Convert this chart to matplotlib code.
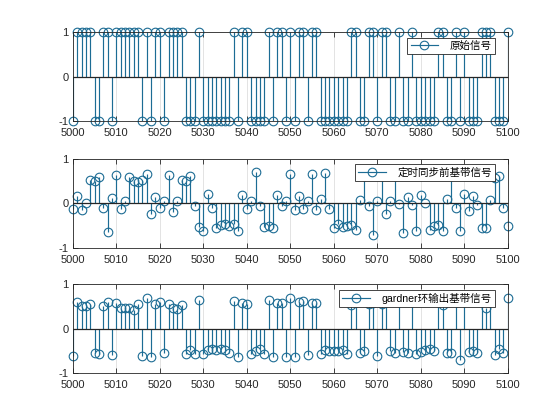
import numpy as np
import matplotlib
matplotlib.use('Agg')
import matplotlib.pyplot as plt
from matplotlib.lines import Line2D
from matplotlib.legend_handler import HandlerLine2D

# ---------------- data ----------------
n = np.arange(5000, 5101)

original = [-1, 1, 1, 1, 1, -1, -1, 1, 1, -1,
            1, 1, 1, 1, 1, 1, -1, 1, -1, 1,
            1, -1, 1, 1, 1, 1, -1, -1, -1, 1,
            -1, -1, -1, -1, -1, -1, -1, 1, -1, 1,
            1, -1, -1, -1, -1, 1, -1, 1, 1, -1,
            1, -1, 1, 1, -1, 1, 1, -1, -1, -1,
            -1, -1, -1, -1, 1, 1, -1, -1, 1, 1,
            -1, 1, 1, -1, -1, 1, -1, -1, 1, -1,
            -1, -1, -1, -1, 1, 1, -1, -1, 1, -1,
            1, -1, -1, -1, 1, 1, 1, -1, -1, -1,
            1]

pre_sync = [-0.12, 0.16, -0.15, 0.01, 0.51, 0.49, 0.58, -0.11, -0.65, 0.11,
            0.64, -0.13, 0.04, 0.59, 0.49, 0.47, 0.53, 0.65, -0.24, 0.15,
            -0.11, 0.04, 0.64, -0.19, 0.05, 0.53, 0.49, 0.62, -0.06, -0.54,
            -0.61, 0.20, -0.10, -0.55, -0.48, -0.46, -0.50, -0.46, -0.61, 0.18,
            -0.13, 0.05, 0.69, -0.07, -0.54, -0.50, -0.55, 0.18, -0.06, 0.05,
            0.65, -0.15, 0.16, -0.13, 0.04, 0.65, -0.15, 0.09, 0.68, -0.12,
            -0.55, -0.46, -0.54, -0.50, -0.48, -0.59, 0.07, 0.60, -0.07, -0.71,
            0.05, 0.60, -0.24, 0.05, 0.60, -0.02, -0.66, 0.14, -0.04, -0.63,
            0.18, 0.00, -0.60, -0.50, -0.48, -0.63, 0.09, 0.60, -0.11, -0.63,
            0.20, -0.18, 0.16, -0.04, -0.55, -0.56, 0.07, 0.57, 0.62, -0.10,
            -0.51]

gardner = [-0.62, 0.60, 0.50, 0.50, 0.55, -0.55, -0.57, 0.50, 0.60, -0.60,
           0.57, 0.45, 0.47, 0.47, 0.42, 0.55, -0.62, 0.68, -0.63, 0.56,
           0.60, -0.55, 0.55, 0.47, 0.43, 0.53, -0.57, -0.48, -0.57, 0.63,
           -0.57, -0.48, -0.47, -0.49, -0.47, -0.48, -0.55, 0.62, -0.65, 0.57,
           0.54, -0.58, -0.50, -0.45, -0.57, 0.65, -0.63, 0.57, 0.58, -0.64,
           0.68, -0.65, 0.60, 0.62, -0.60, 0.58, 0.58, -0.58, -0.49, -0.50,
           -0.50, -0.50, -0.49, -0.58, 0.53, 0.60, -0.55, -0.51, 0.55, 0.58,
           -0.61, 0.55, 0.60, -0.50, -0.55, 0.60, -0.53, -0.56, 0.60, -0.58,
           -0.53, -0.49, -0.47, -0.51, 0.60, 0.53, -0.55, -0.55, 0.60, -0.71,
           0.60, -0.53, -0.51, -0.54, 0.60, 0.45, 0.60, -0.60, -0.47, -0.56,
           0.68]

xticks = list(range(5000, 5101, 10))
yticks = [-1, 0, 1]
labels = ['原始信号', '定时同步前基带信号', 'gardner环输出基带信号']

# ---------------- style ----------------
plt.rcParams['axes.unicode_minus'] = False
plt.rcParams['font.family'] = ['Liberation Sans', 'Noto Sans CJK SC', 'DejaVu Sans']

stem_color = '#1c6c94'
axis_color = '#262626'


class EndMarkerHandler(HandlerLine2D):
    def get_xdata(self, legend, xdescent, ydescent, width, height, fontsize):
        xd = np.array([-xdescent, -xdescent + width])
        xm = np.array([-xdescent + width])
        return xd, xm


fig = plt.figure(figsize=(5.6, 4.2), dpi=100)
positions = [[0.13, 0.7119, 0.7768, 0.2119],
             [0.13, 0.4095, 0.7768, 0.2131],
             [0.13, 0.1119, 0.7768, 0.2119]]
series = [original, pre_sync, gardner]

for pos, vals, lab in zip(positions, series, labels):
    ax = fig.add_axes(pos)
    ml, sl, bl = ax.stem(n, vals, linefmt='-', markerfmt='o', basefmt='-')
    plt.setp(sl, color=stem_color, linewidth=0.85)
    plt.setp(ml, markerfacecolor='none', markeredgecolor=stem_color,
             markersize=6.2, markeredgewidth=0.8, clip_on=False)
    plt.setp(bl, color=axis_color, linewidth=0.9)
    ax.set_xlim(5000, 5100)
    ax.set_ylim(-1, 1)
    ax.set_xticks(xticks)
    ax.set_yticks(yticks)
    ax.set_yticklabels([str(v) for v in yticks])
    ax.grid(True, color='#dedede', linewidth=0.6)
    ax.set_axisbelow(True)
    ax.tick_params(direction='in', length=3.5, width=0.6, top=True, right=True,
                   labelsize=8, colors=axis_color, pad=3)
    ax.tick_params(axis='x', pad=5)
    for s in ax.spines.values():
        s.set_color(axis_color)
        s.set_linewidth(0.6)

    h = Line2D([], [], color=stem_color, linewidth=0.85, marker='o',
               markerfacecolor='none', markeredgecolor=stem_color,
               markersize=6.2, markeredgewidth=0.8)
    leg = ax.legend([h], [lab], loc='upper right',
                    bbox_to_anchor=(1 - 13 / 435, 1 - 5.5 / 89),
                    borderaxespad=0, fancybox=False, framealpha=1,
                    edgecolor=axis_color, fontsize=7.6, handlelength=2.6,
                    handletextpad=1.1, borderpad=0.3,
                    handler_map={Line2D: EndMarkerHandler(numpoints=1)})
    leg.get_frame().set_linewidth(0.6)

fig.savefig('out.png', dpi=100)
